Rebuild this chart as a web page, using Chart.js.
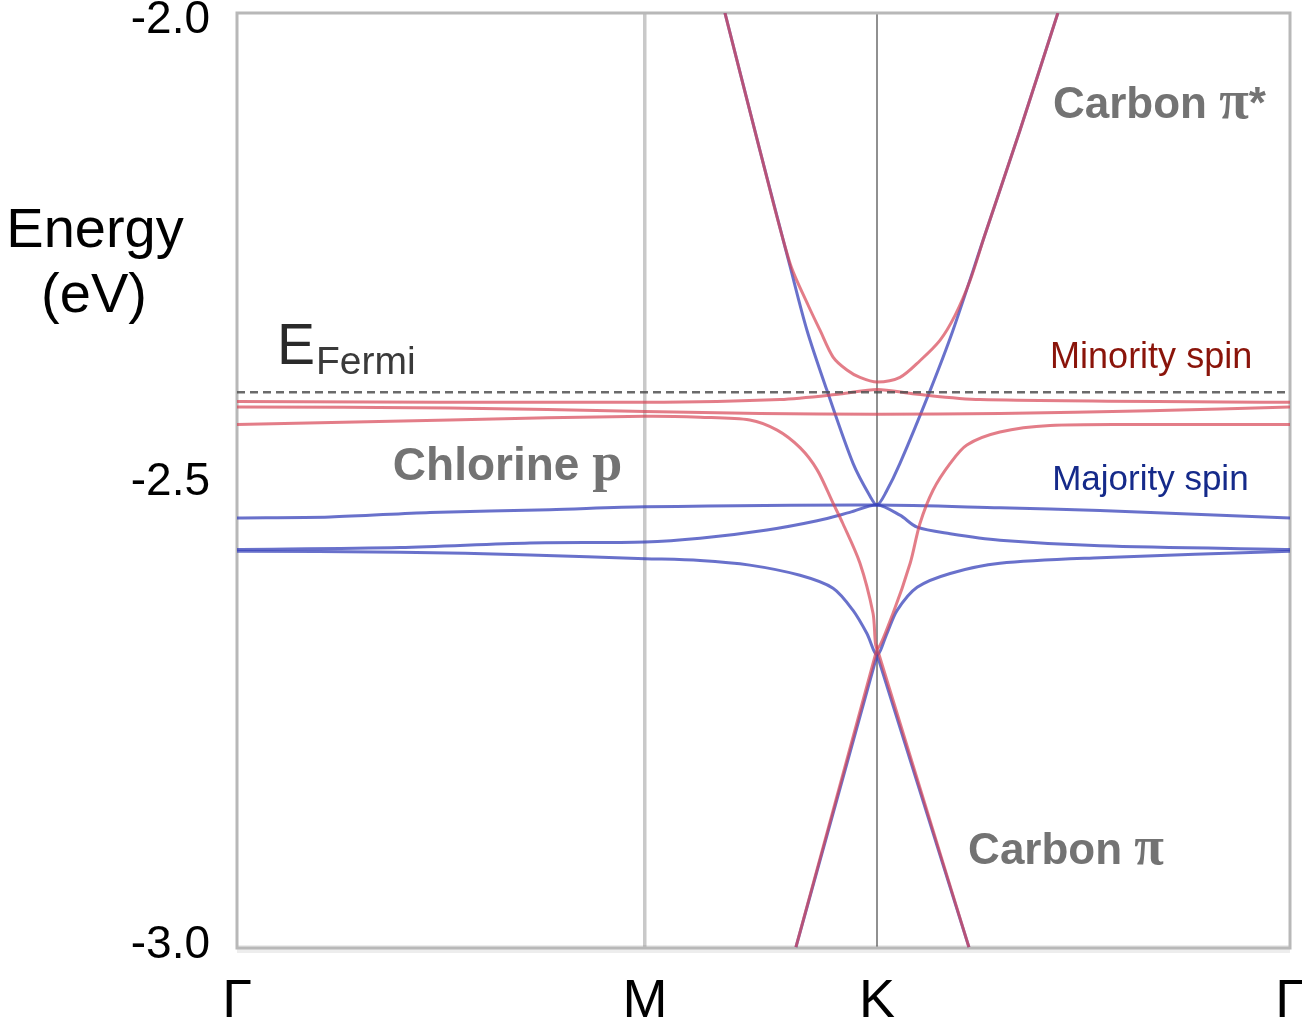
<!DOCTYPE html>
<html>
<head>
<meta charset="utf-8">
<script src="https://cdn.jsdelivr.net/npm/chart.js@4.4.1/dist/chart.umd.min.js"></script>
<style>
  html, body { margin: 0; padding: 0; background: #ffffff; }
  #wrap { width: 1302px; height: 1033px; position: relative; }
</style>
</head>
<body>
<div id="wrap"><canvas id="c" width="1302" height="1033"></canvas></div>
<script>
// ---------- data (k along Γ–M–K–Γ path, energy in eV) ----------
const kTickPos    = [0, 1.0, 1.569, 2.581];
const kTickLabels = ['Γ', 'M', 'K', 'Γ'];
const energyTicks = [-3.0, -2.5, -2.0];
const fermiEnergy = -2.402;

// majority spin (blue)
const maj1K = [1.196,1.282,1.355,1.397,1.446,1.510,1.551,1.569,1.591,1.625,1.699,1.755,1.833,1.919,2.012];
const maj1E = [-1.992,-2.141,-2.265,-2.335,-2.400,-2.479,-2.514,-2.524,-2.510,-2.479,-2.400,-2.335,-2.232,-2.119,-1.992];
const maj2K = [0,0.228,0.473,0.767,1.000,1.569,1.870,2.115,2.581];
const maj2E = [-2.538,-2.537,-2.532,-2.529,-2.526,-2.524,-2.527,-2.530,-2.538];
const maj3K = [0,0.400,0.718,1.000,1.135,1.299,1.422,1.502,1.569,1.625,1.667,1.748,1.870,2.115,2.581];
const maj3E = [-2.572,-2.570,-2.565,-2.564,-2.560,-2.551,-2.541,-2.532,-2.524,-2.535,-2.548,-2.555,-2.562,-2.568,-2.572];
const maj4K = [0,0.400,0.718,1.000,1.135,1.257,1.380,1.461,1.510,1.544,1.569,1.593,1.618,1.667,1.748,1.870,2.115,2.581];
const maj4E = [-2.574,-2.575,-2.578,-2.582,-2.584,-2.589,-2.600,-2.614,-2.638,-2.663,-2.686,-2.663,-2.638,-2.613,-2.598,-2.587,-2.581,-2.574];
const maj5K = [1.370,1.569,1.794];
const maj5E = [-3.002,-2.686,-3.002];

// minority spin (red)
const min1K = [1.196,1.282,1.355,1.400,1.429,1.461,1.495,1.527,1.569,1.625,1.674,1.723,1.760,1.797,1.833,1.919,2.012];
const min1E = [-1.992,-2.141,-2.262,-2.308,-2.335,-2.364,-2.378,-2.386,-2.391,-2.386,-2.368,-2.346,-2.319,-2.281,-2.232,-2.119,-1.992];
const min2K = [0,1.000,1.331,1.478,1.569,1.662,1.821,2.581];
const min2E = [-2.412,-2.413,-2.410,-2.404,-2.399,-2.404,-2.410,-2.413];
const min3K = [0,0.522,1.000,1.282,1.569,1.870,2.238,2.581];
const min3E = [-2.418,-2.419,-2.423,-2.425,-2.426,-2.425,-2.422,-2.418];
const min4K = [0,0.522,1.000,1.135,1.257,1.324,1.380,1.422,1.461,1.485,1.527,1.559,1.569,1.608,1.650,1.674,1.706,1.748,1.789,1.870,1.993,2.238,2.581];
const min4E = [-2.437,-2.432,-2.428,-2.429,-2.432,-2.443,-2.462,-2.486,-2.522,-2.544,-2.587,-2.641,-2.679,-2.641,-2.587,-2.544,-2.508,-2.479,-2.459,-2.445,-2.438,-2.437,-2.437];
const min5K = [1.370,1.569,1.794];
const min5E = [-3.002,-2.679,-3.002];

// ---------- helpers ----------
const pts = (k, e) => k.map((x, i) => ({ x: x, y: e[i] }));
const BLUE = 'rgba(55,65,185,0.75)';
const RED  = 'rgba(215,70,85,0.70)';

function band(k, e, color, order, tension) {
  return { data: pts(k, e), borderColor: color, borderWidth: 3, pointRadius: 0,
           showLine: true, tension: tension, fill: false, order: order };
}

const datasets = [
  { data: [{x: kTickPos[0], y: fermiEnergy}, {x: kTickPos[3], y: fermiEnergy}],
    borderColor: 'rgba(80,80,80,0.85)', borderWidth: 2.6, borderDash: [8, 5],
    pointRadius: 0, showLine: true, order: 0 },
  band(min1K, min1E, RED, 1, 0.3), band(min2K, min2E, RED, 1, 0.3), band(min3K, min3E, RED, 1, 0.3),
  band(min4K, min4E, RED, 1, 0.3), band(min5K, min5E, RED, 1, 0),
  band(maj1K, maj1E, BLUE, 2, 0.3), band(maj2K, maj2E, BLUE, 2, 0.3), band(maj3K, maj3E, BLUE, 2, 0.3),
  band(maj4K, maj4E, BLUE, 2, 0.3), band(maj5K, maj5E, BLUE, 2, 0)
];

// ---------- annotation texts (anchor in data coordinates) ----------
const annotations = [
  { k: 0.382, e: -2.497, parts: [['Chlorine ', 'bold 46px "Liberation Sans", Arial'], ['p', 'bold 54px "Liberation Serif", serif']], color: '#737373' },
  { k: 2.000, e: -2.105, parts: [['Carbon ', 'bold 44px "Liberation Sans", Arial'], ['π', 'bold 54px "Liberation Serif", serif'], ['*', 'bold 44px "Liberation Sans", Arial']], color: '#737373' },
  { k: 1.792, e: -2.912, parts: [['Carbon ', 'bold 44px "Liberation Sans", Arial'], ['π', 'bold 54px "Liberation Serif", serif']], color: '#737373' },
  { k: 1.993, e: -2.376, parts: [['Minority spin', '36px "Liberation Sans", Arial']], color: '#8a140a' },
  { k: 1.998, e: -2.508, parts: [['Majority spin', '35px "Liberation Sans", Arial']], color: '#152a8a' }
];

const framePlugin = {
  id: 'frame',
  beforeDatasetsDraw(chart) {
    const { ctx, chartArea: a } = chart;
    ctx.save();
    ctx.fillStyle = 'rgba(0,0,0,0.07)';
    ctx.fillRect(a.left, a.bottom - 3, a.right - a.left, 8);
    ctx.strokeStyle = '#b8b8b8';
    ctx.lineWidth = 3;
    ctx.strokeRect(a.left, a.top, a.right - a.left, a.bottom - a.top);
    ctx.restore();
  },
  afterDraw(chart) {
    const { ctx } = chart;
    const xs = chart.scales.x, ys = chart.scales.y;
    ctx.save();
    ctx.textBaseline = 'alphabetic';
    ctx.textAlign = 'left';
    annotations.forEach(an => {
      let x = xs.getPixelForValue(an.k);
      const y = ys.getPixelForValue(an.e);
      ctx.fillStyle = an.color;
      an.parts.forEach(p => {
        ctx.font = p[1];
        ctx.fillText(p[0], x, y);
        x += ctx.measureText(p[0]).width;
      });
    });
    // E_Fermi label
    const fx = xs.getPixelForValue(0.098);
    const fy = ys.getPixelForValue(-2.371);
    ctx.fillStyle = '#2a2a2a';
    ctx.font = '57px "Liberation Sans", Arial';
    ctx.fillText('E', fx, fy);
    const w = ctx.measureText('E').width;
    ctx.fillStyle = '#3a3a3a';
    ctx.font = '39px "Liberation Sans", Arial';
    ctx.fillText('Fermi', fx + w + 1, fy + 10);
    // axis title
    ctx.fillStyle = '#000';
    ctx.textAlign = 'center';
    ctx.font = '56px "Liberation Sans", Arial';
    ctx.fillText('Energy', 95, 247);
    ctx.fillText('(eV)', 94, 312);
    ctx.restore();
  }
};

Chart.defaults.font.family = '"Liberation Sans", Arial, sans-serif';

new Chart(document.getElementById('c'), {
  type: 'scatter',
  data: { datasets: datasets },
  options: {
    responsive: false,
    animation: false,
    events: [],
    layout: { padding: { left: 0, right: 12, top: 13, bottom: 0 } },
    plugins: { legend: { display: false }, tooltip: { enabled: false } },
    scales: {
      x: {
        type: 'linear', min: kTickPos[0], max: kTickPos[3],
        afterBuildTicks: s => { s.ticks = kTickPos.map(v => ({ value: v })); },
        afterFit: s => { s.height = 85; s.paddingLeft = 0; s.paddingRight = 0; },
        ticks: { callback: (v, i) => kTickLabels[i], autoSkip: false, maxRotation: 0,
                 color: '#000', font: { size: 54 }, padding: 22 },
        grid: { drawTicks: false,
                color: c => c.index === 1 ? 'rgba(165,165,165,0.6)' : (c.index === 2 ? 'rgba(125,125,125,0.85)' : 'rgba(0,0,0,0)'),
                lineWidth: c => c.index === 1 ? 3.5 : 2 },
        border: { display: false }
      },
      y: {
        type: 'linear', min: -3.003, max: -1.992,
        afterBuildTicks: s => { s.ticks = energyTicks.map(v => ({ value: v })); },
        afterFit: s => { s.width = 237; s.paddingTop = 0; s.paddingBottom = 0; },
        ticks: { callback: v => v.toFixed(1), color: '#000', font: { size: 46 }, padding: 27 },
        grid: { display: false, drawTicks: false },
        border: { display: false }
      }
    }
  },
  plugins: [framePlugin]
});
</script>
</body>
</html>
